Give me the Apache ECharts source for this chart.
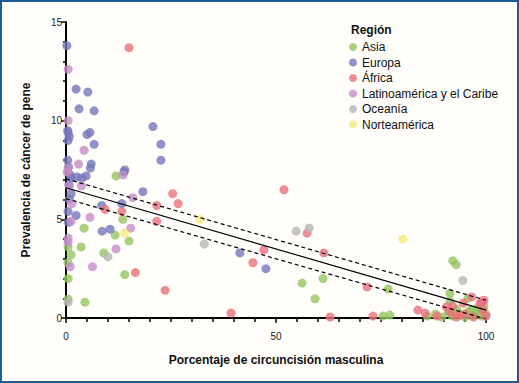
<!DOCTYPE html>
<html><head><meta charset="utf-8">
<script src="https://cdn.jsdelivr.net/npm/echarts@6/dist/echarts.min.js"></script>
<style>
html,body{margin:0;padding:0;background:#fffefb;}
#frame{position:absolute;left:0;top:0;width:519px;height:383px;box-sizing:border-box;border:2px solid #1d5b94;}
#chart{position:absolute;left:0;top:0;width:519px;height:383px;}
#err{position:absolute;left:4px;top:368px;font:9px sans-serif;color:#c00;}
</style></head>
<body><div id="frame"></div><div id="chart"></div><div id="err"></div>
<script>
window.onerror = function(m){ document.getElementById('err').textContent = String(m).slice(0,120); };
const regions = ['Asia','Europa','África','Latinoamérica y el Caribe','Oceanía','Norteamérica'];
const colors = ['#94c660','#7577ba','#ea7079','#c68dc8','#b7b7b7','#f2eb7c'];

const asia = [[11.9,7.2],[13.5,5.0],[4.3,4.55],[11.7,4.2],[15,3.9],[3.6,3.6],[9,3.3],[1.2,3.2],[0.5,2.8],[14,2.2],[0.5,2.0],[0.5,0.95],[4.5,0.8],[0.5,3.6],
 [56.2,1.77],[61.2,2.0],[59.3,0.97],[76.7,1.47],[75.5,0.1],[77.1,0.15],[92.1,2.9],[92.9,2.7],[91.4,1.25],[91.4,0.85],[95.7,1.0],[97.9,0.5],
 [86,0.1],[88,0.2],[89.5,0.05],[91,0.3],[92,0.1],[93,0.45],[94,0.2],[95,0.05],[96,0.35],[97,0.15],[98,0.3],[99,0.1],[99.5,0.6],[100,0.2],[96.6,0.4],[92.5,0.3]];
const europa = [[0.2,13.8],[2.4,11.6],[5.2,11.45],[3.1,10.6],[6.7,10.5],[0.4,9.5],[0.5,9.4],[0.8,9.2],[0.5,9.0],[5.0,9.3],[5.7,9.4],[6.7,8.8],[0.4,8.0],[6.0,7.8],[5.8,7.6],[0.6,7.65],[1.0,7.25],[2.6,7.15],[3.8,7.1],[4.8,7.2],[1.2,7.1],[0.7,6.75],[1.2,6.3],[0.8,6.0],[0.5,5.4],[2.4,5.2],[0.6,4.85],[8.5,5.7],[13.3,5.8],[8.6,4.4],[10.5,4.5],[14.0,7.5],[13.8,7.4],[18.3,6.4],[20.7,9.7],[22.6,8.8],[22.6,8.0],[41.4,3.3],[47.6,2.5]];
const africa = [[15,13.7],[25.4,6.3],[26.7,5.8],[21.6,5.7],[21.6,4.9],[13.3,5.4],[9.3,5.5],[16.5,2.3],[23.6,1.4],[39.3,0.25],[51.9,6.5],[57.4,4.3],[61.4,3.3],[47.1,3.45],[44.5,2.8],[62.9,0.05],
 [71.7,1.57],[73.1,0.1],[83.8,0.4],[85.5,0.25],[88.3,0.1],[90.6,0.56],[91.5,0.3],[93,0.05],[94.6,0.76],[96.6,1.07],[98.6,0.75],[95,0.2],[97,0.05],[99,0.76],[99.3,0.4],[100,0.1],[93.8,0.15],[92,0.6],[99.5,0.9]];
const latino = [[0.5,12.6],[0.5,10.0],[4.3,8.5],[3,7.8],[0.5,7.6],[13.6,7.25],[3.7,6.7],[0.8,6.7],[15.9,6.1],[1.4,5.8],[5.7,5.1],[1.2,4.9],[15.4,4.55],[0.5,4.05],[0.5,3.85],[11.9,3.5],[1,2.6],[6.3,2.6],[0.3,7.4]];
const oceania = [[0.5,0.8],[10,3.1],[32.9,3.75],[54.8,4.4],[57.9,4.56],[94.5,1.9]];
const norte = [[14,4.3],[31.9,5.0],[80.2,4.0]];
const fitLine = [[0,6.6],[100,0.4]];
const upperBand = [[0,7.05],[100,0.9]];
const lowerBand = [[0,6.05],[100,-0.05]];
const xMin = 0, xMax = 100, yMin = 0, yMax = 15;

const groups = [asia,europa,africa,latino,oceania,norte];
const font = 'Liberation Sans';
const chart = echarts.init(document.getElementById('chart'), null, {renderer:'svg'});
const series = groups.map((d,i)=>({
  name: regions[i], type:'scatter', data:d, symbolSize:9,
  itemStyle:{color:colors[i]}
}));
series.push({type:'line', data:fitLine, symbol:'none', lineStyle:{color:'#000',width:1.2}});
series.push({type:'line', data:upperBand, symbol:'none', lineStyle:{color:'#000',width:1.2,type:[4,3]}});
series.push({type:'line', data:lowerBand, symbol:'none', lineStyle:{color:'#000',width:1.2,type:[4,3]}});

try {
chart.setOption({
  animation:false,
  textStyle:{fontFamily:font},
  grid:{left:66,right:33,top:22,bottom:65},
  title:{text:'Región', left:346, top:19, textStyle:{fontSize:12,fontWeight:'bold',color:'#111'}},
  legend:{data:regions, orient:'vertical', left:344, top:36, itemWidth:8, itemHeight:8, itemGap:3.5, icon:'circle',
    textStyle:{fontSize:12,color:'#111'}},
  xAxis:{type:'value', min:xMin, max:xMax, interval:50,
    name:'Porcentaje de circuncisión masculina', nameLocation:'middle', nameGap:36,
    nameTextStyle:{fontSize:12,fontWeight:'bold',color:'#111'},
    axisLine:{show:true,onZero:false,lineStyle:{color:'#000',width:2}},
    axisTick:{show:true,length:5,lineStyle:{color:'#000',width:1.5}},
    minorTick:{show:true,splitNumber:10,length:4,lineStyle:{color:'#000',width:1.5}},
    splitLine:{show:false},
    axisLabel:{fontSize:10,color:'#222',margin:13}},
  yAxis:{type:'value', min:yMin, max:yMax, interval:5,
    name:'Prevalencia de cáncer de pene', nameLocation:'middle', nameGap:34,
    nameTextStyle:{fontSize:12,fontWeight:'bold',color:'#111'},
    axisLine:{show:true,onZero:false,lineStyle:{color:'#000',width:2}},
    axisTick:{show:true,length:5,lineStyle:{color:'#000',width:1.5}},
    minorTick:{show:true,splitNumber:5,length:3,lineStyle:{color:'#000',width:1.5}},
    splitLine:{show:false},
    axisLabel:{fontSize:10,color:'#222',margin:4}},
  series: series
});
} catch(e) { document.getElementById('err').textContent = String(e).slice(0,120); }
</script></body></html>
